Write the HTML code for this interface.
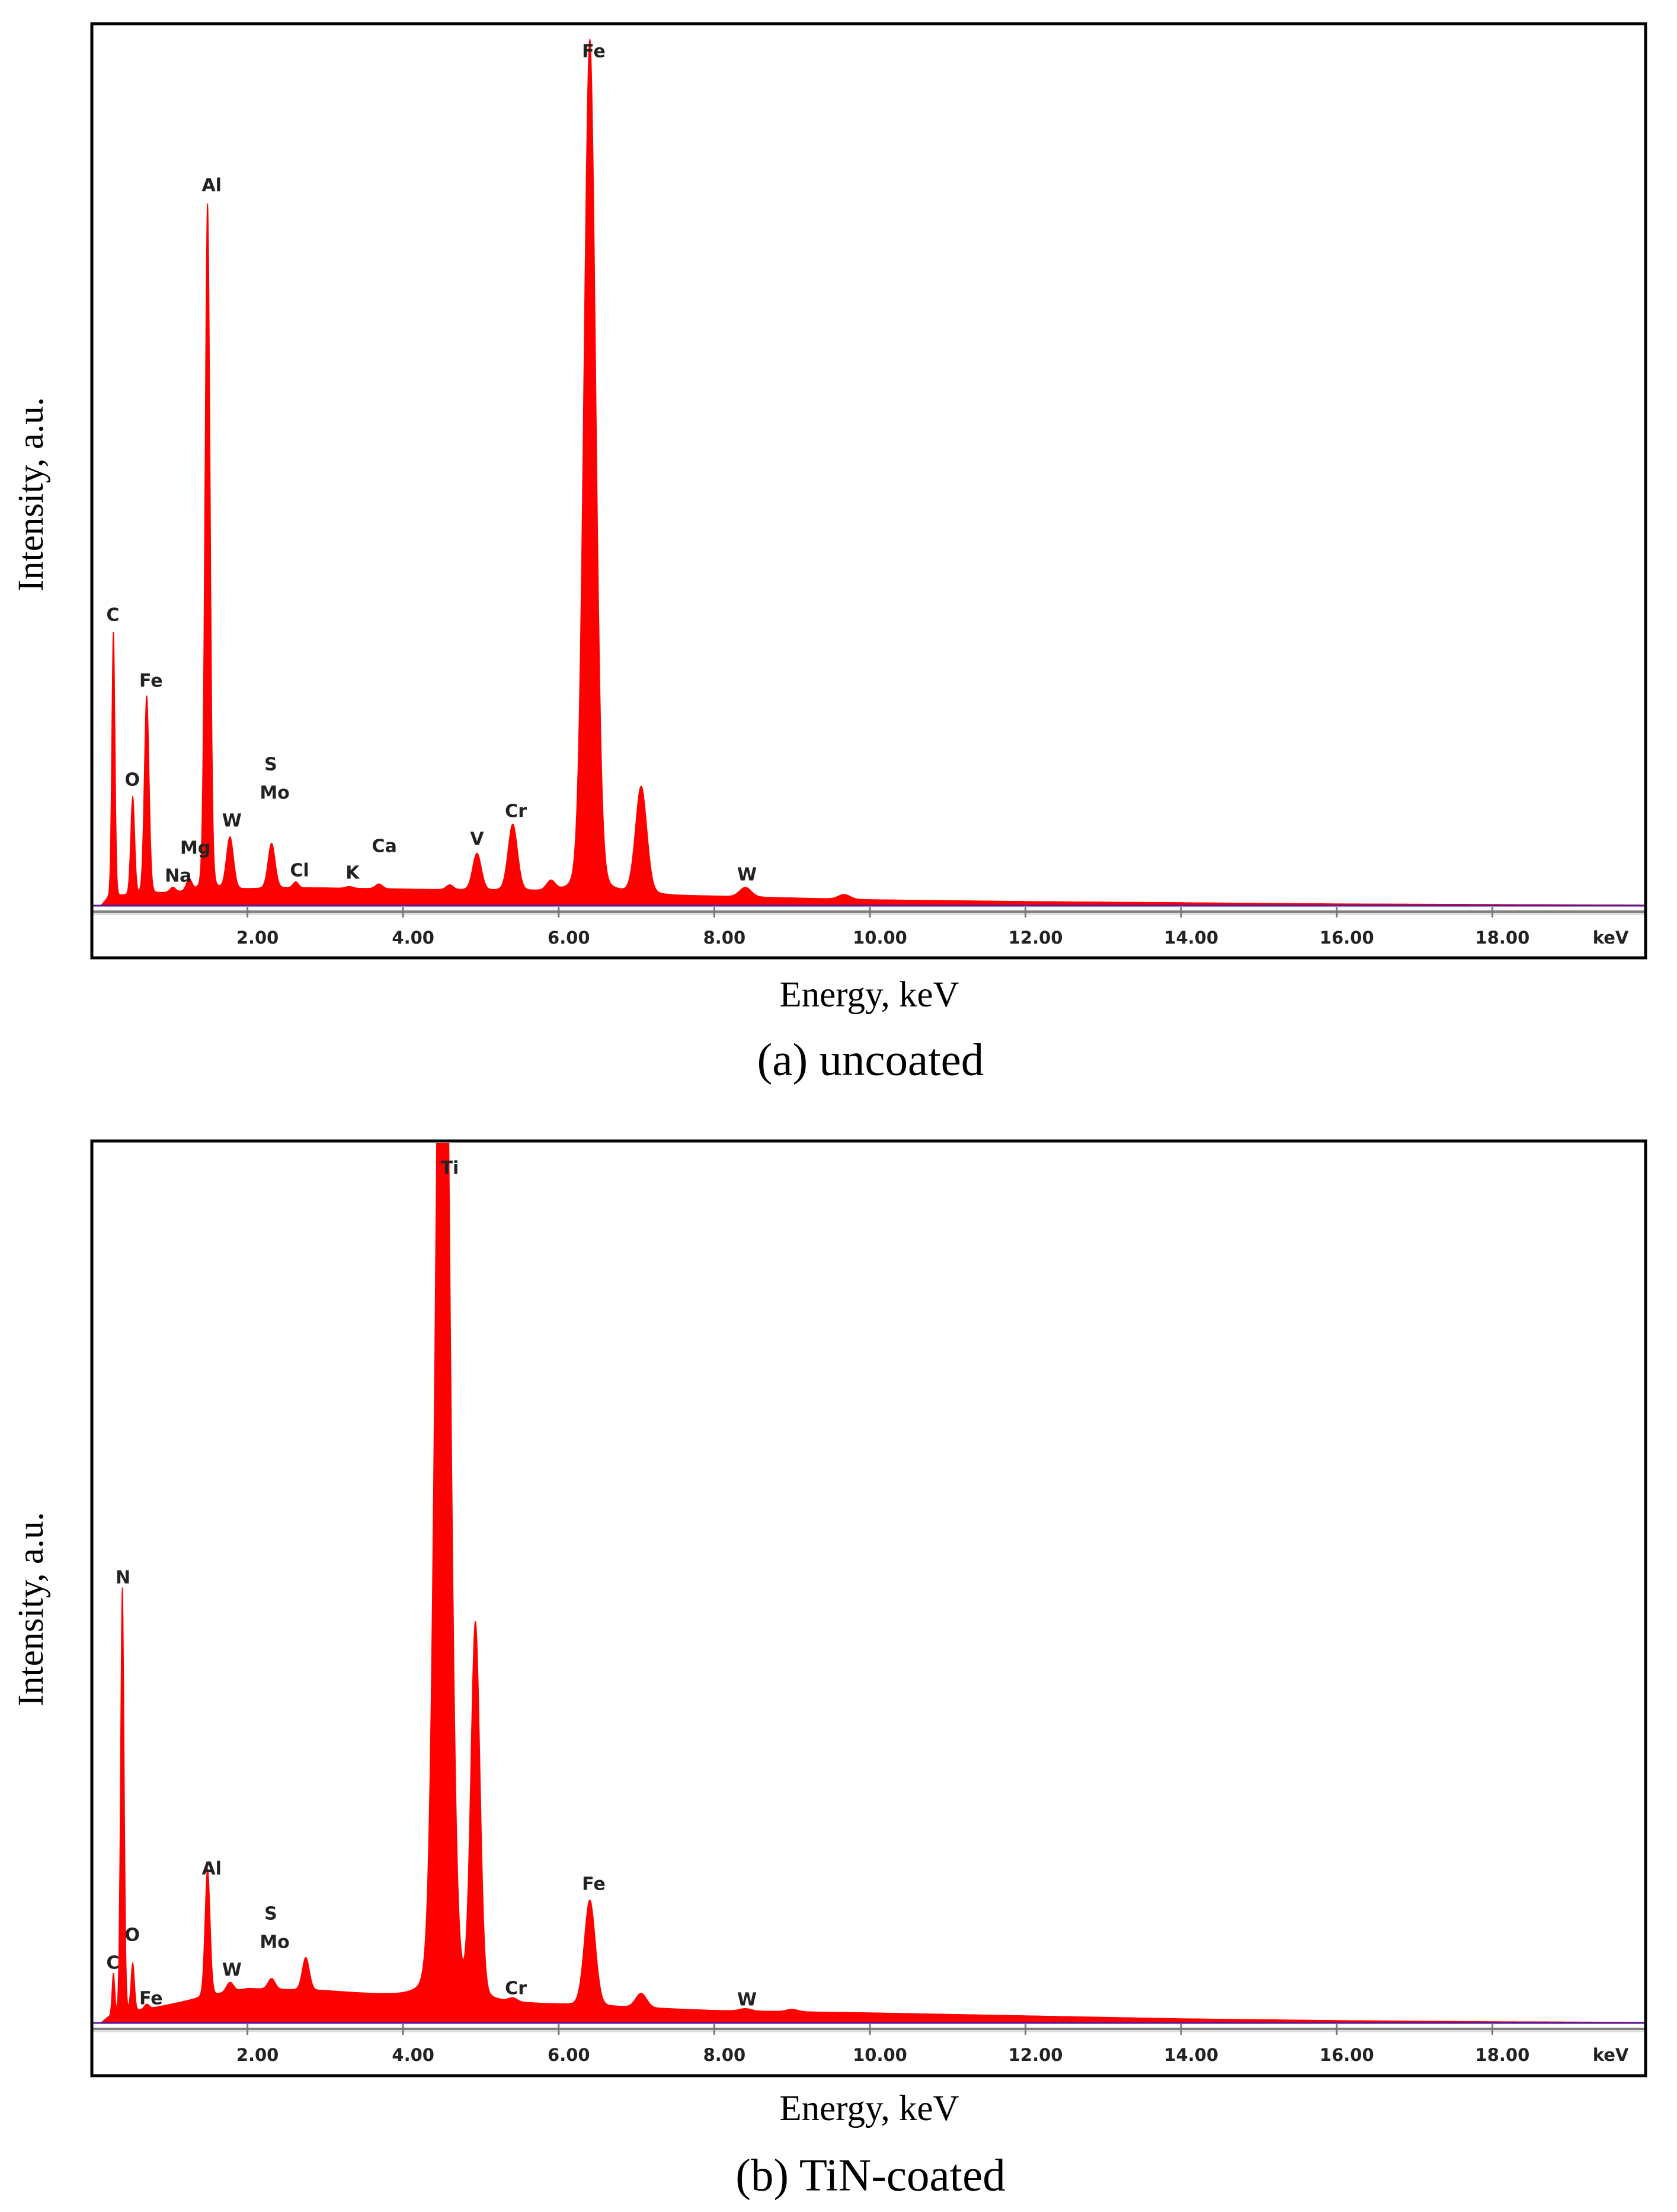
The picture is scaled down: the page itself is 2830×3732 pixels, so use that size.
<!DOCTYPE html>
<html><head><meta charset="utf-8">
<style>
html,body{margin:0;padding:0;background:#fff;}
svg{display:block;}
.lbl{font-family:"DejaVu Sans","Liberation Sans",sans-serif;font-weight:bold;font-size:30px;fill:#222;text-anchor:middle;dominant-baseline:middle;}
.tick{font-family:"DejaVu Sans","Liberation Sans",sans-serif;font-weight:bold;font-size:29px;fill:#222;text-anchor:middle;dominant-baseline:middle;}
.ser{font-family:"Liberation Serif",serif;fill:#000;text-anchor:middle;dominant-baseline:middle;}
</style></head>
<body>
<svg id="chart" width="2830" height="3732" viewBox="0 0 2830 3732" xmlns="http://www.w3.org/2000/svg"></svg>
<script>
// ---- shared axis ticks ----
const tickValues = [2,4,6,8,10,12,14,16,18];
const tickLabels = ["2.00","4.00","6.00","8.00","10.00","12.00","14.00","16.00","18.00"];

// ---- panel (a) uncoated: peaks ----
const aPeakE = [0.277,0.525,0.705,1.04,1.25,1.487,1.775,2.31,2.62,3.31,3.69,4.60,4.95,5.41,5.90,6.40,7.06,8.40,9.67];
const aPeakH = [450,165,335,8,20,1160,88,76,10,3,8,8,62,112,16,1440,180,16,8];
const aPeakW = [0.02,0.025,0.03,0.035,0.035,0.032,0.045,0.045,0.035,0.045,0.045,0.045,0.055,0.06,0.055,0.075,0.072,0.075,0.075];
const aBgE = [0.12,0.2,0.4,0.8,1.0,1.5,2.0,2.5,3.0,4.0,4.5,5.0,6.0,7.0,7.5,8.0,10.0,12.0,14.0,16.0,18.0,20.0];
const aBgV = [0,10,16,20,22,25,28,30,30,28,27,26,23,20,17,16,10,7,5,3,2,1];
const aLabels = ["Fe","Al","C","Fe","O","S","Mo","W","Mg","Na","Cl","K","Ca","V","Cr","W"];
const aLabelE = [6.45,1.54,0.27,0.76,0.52,2.3,2.35,1.8,1.33,1.11,2.67,3.35,3.76,4.95,5.45,8.42];
const aLabelV = [1440,1214,489,378,211,237,189,142,96,49,58,54,99,111,158,51];

// ---- panel (b) TiN-coated: peaks ----
const bPeakE = [0.277,0.392,0.525,0.705,1.487,1.775,2.31,2.75,4.51,4.93,5.41,6.40,7.06,8.40,9.0];
const bPeakH = [70,720,80,8,215,16,18,55,2200,630,6,178,24,4,4];
const bPeakW = [0.017,0.022,0.022,0.03,0.032,0.045,0.045,0.045,0.085,0.058,0.055,0.07,0.07,0.075,0.075];
const bBgE = [0.12,0.2,0.5,1.0,1.5,2.0,2.5,3.0,4.0,5.0,5.5,6.0,8.0,10.0,12.0,14.0,16.0,18.0,20.0];
const bBgV = [0,8,18,31,45,58,56,54,44,36,33,31,21,17,12,7,4,2,1];
const bLabels = ["Ti","N","Al","S","Mo","O","C","W","Fe","Cr","Fe","W"];
const bLabelE = [4.6,0.4,1.54,2.3,2.35,0.52,0.27,1.8,0.76,5.45,6.45,8.42];
const bLabelV = [1441,750,259,183,135,147,100,88,40,57,233,38];

const NS = "http://www.w3.org/2000/svg";
const svg = document.getElementById("chart");
function mk(tag, attrs, parent){const e=document.createElementNS(NS,tag);for(const k in attrs)e.setAttribute(k,attrs[k]);(parent||svg).appendChild(e);return e;}

const X0 = 155, PX_PER_KEV = 131.3;
function xScale(e){return X0 + e*PX_PER_KEV;}

function interp(xs, ys, x){
  if(x<=xs[0])return ys[0];
  for(let i=1;i<xs.length;i++){if(x<=xs[i]){const t=(x-xs[i-1])/(xs[i]-xs[i-1]);return ys[i-1]+t*(ys[i]-ys[i-1]);}}
  return ys[ys.length-1];
}

function drawPanel(opt){
  const {top,bottom,base,name,pE,pH,pW,bgE,bgV,labs,labE,labV,caption,ytitleY,xtitleY,captionY} = opt;
  const yScale = v => base - v;
  const g = mk("g",{});
  
  
  const cid = "clip-"+name;
  const defs = mk("defs",{},g);
  const cp = mk("clipPath",{id:cid},defs);
  mk("rect",{x:157,y:top+3,width:2618,height:bottom-top-6},cp);
  let d = "M"+xScale(0.12).toFixed(1)+","+base;
  for(let e=0.12;e<=19.95;e+=0.004){
    let v = interp(bgE,bgV,e);
    for(let i=0;i<pE.length;i++){
      const z=(e-pE[i])/pW[i];
      const g2 = Math.abs(z)<8 ? Math.exp(-0.5*z*z) : 0;
      const lor = 1/(1+z*z/2);
      v+=pH[i]*(0.92*g2+0.08*lor*Math.exp(-Math.abs(z)/25));
    }
    d += " L"+xScale(e).toFixed(1)+","+yScale(v).toFixed(1);
  }
  d += " L"+xScale(19.95).toFixed(1)+","+base+" Z";
  const sp = mk("path",{d:d,fill:"#ff0000",stroke:"#ff0000","stroke-width":"1.5","clip-path":"url(#"+cid+")"},g);
  
  
  const bl = mk("line",{x1:157,x2:2775,y1:base,y2:base,stroke:"#5a189a","stroke-width":"3"},g);
  
  
  const ax = mk("line",{x1:157,x2:2775,y1:base+10,y2:base+10,stroke:"#808080","stroke-width":"4"},g);
  
  
  mk("line",{x1:157,x2:2775,y1:base+14,y2:base+14,stroke:"#d8d8d8","stroke-width":"3"},g);
  for(let i=0;i<tickValues.length;i++){
    const x = xScale(tickValues[i]);
    const t = mk("line",{x1:x,x2:x,y1:base+2,y2:base+20,stroke:"#777","stroke-width":"3"},g);
    
    
    const tl = mk("text",{x:x+17,y:base+56,class:"tick"},g);
    tl.textContent = tickLabels[i];
    
    
  }
  const kv = mk("text",{x:2718,y:base+56,class:"tick"},g);
  kv.textContent = "keV";
  
  
  for(let i=0;i<labs.length;i++){
    const t = mk("text",{x:xScale(labE[i]),y:yScale(labV[i]),class:"lbl"},g);
    t.textContent = labs[i];
    
    
  }
  const fr = mk("rect",{x:155,y:top,width:2622,height:bottom-top,fill:"none",stroke:"#000","stroke-width":"5"},g);
  
  
  const yt = mk("text",{x:58,y:ytitleY,class:"ser","font-size":"61",transform:"rotate(-90 58 "+ytitleY+")"},g);
  yt.textContent = "Intensity, a.u.";
  
  
  const xt = mk("text",{x:1467,y:xtitleY,class:"ser","font-size":"61"},g);
  xt.textContent = "Energy, keV";
  
  
  const ct = mk("text",{x:1469,y:captionY,class:"ser","font-size":"77"},g);
  ct.textContent = caption;
  
  
}

drawPanel({top:40,bottom:1616,base:1528,name:"panel-a-uncoated",pE:aPeakE,pH:aPeakH,pW:aPeakW,bgE:aBgE,bgV:aBgV,
  labs:aLabels,labE:aLabelE,labV:aLabelV,caption:"(a) uncoated",ytitleY:834,xtitleY:1684,captionY:1796});
drawPanel({top:1925,bottom:3502,base:3413,name:"panel-b-tin-coated",pE:bPeakE,pH:bPeakH,pW:bPeakW,bgE:bBgE,bgV:bBgV,
  labs:bLabels,labE:bLabelE,labV:bLabelV,caption:"(b) TiN-coated",ytitleY:2715,xtitleY:3563,captionY:3678});
</script>
</body></html>
